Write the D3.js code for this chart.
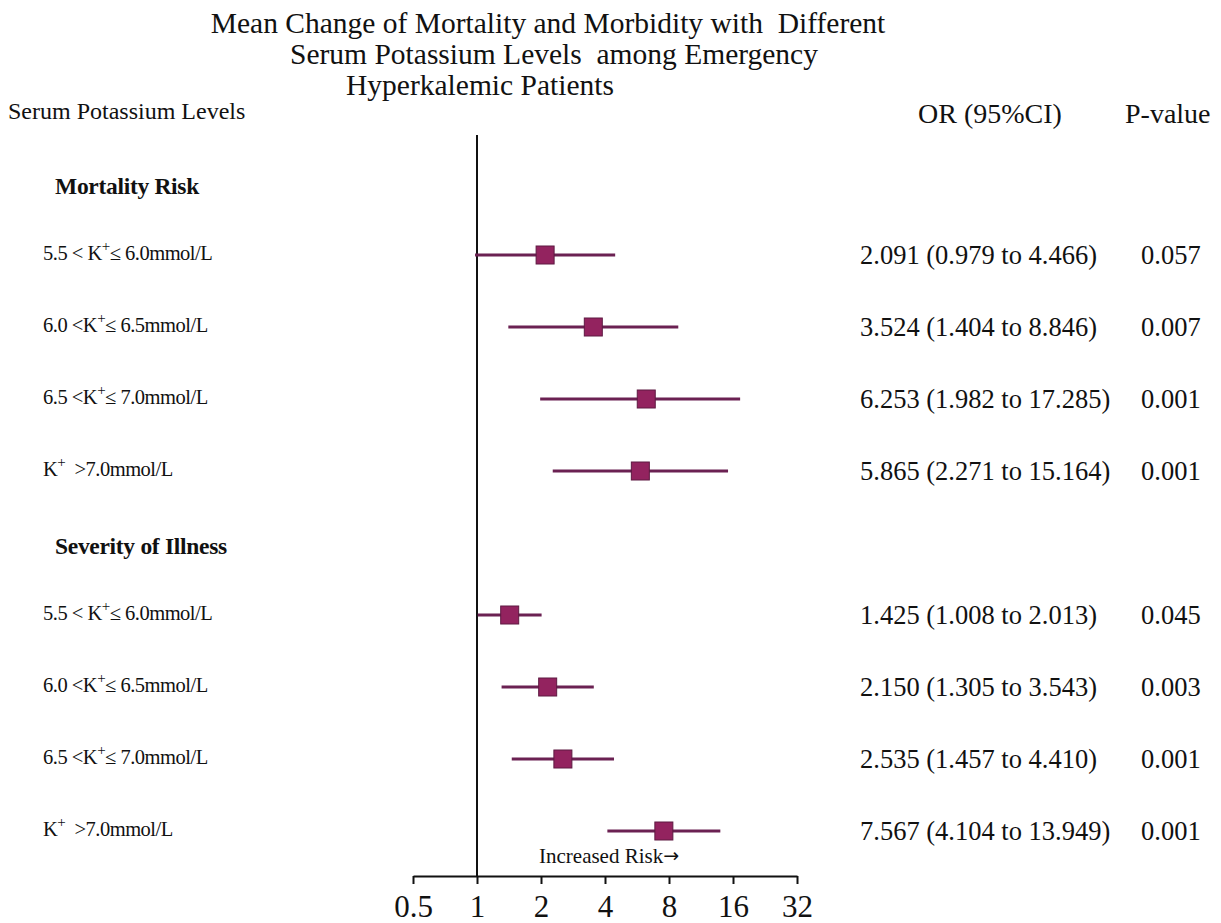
<!DOCTYPE html>
<html>
<head>
<meta charset="utf-8">
<script src="https://cdn.jsdelivr.net/npm/d3@7"></script>
<style>
  body { margin: 0; background: #fff; }
  text { font-family: "Liberation Serif", "Times New Roman", serif; fill: #111; }
</style>
</head>
<body>
<div id="vis"></div>
<script>
// data
var groups = ["Mortality Risk", "Severity of Illness"];
var labelPre  = ["5.5 < K", "6.0 <K", "6.5 <K", "K"];
var labelPost = ["\u2264 6.0mmol/L", "\u2264 6.5mmol/L", "\u2264 7.0mmol/L", "  >7.0mmol/L"];
var orMort = [2.091, 3.524, 6.253, 5.865];
var loMort = [0.979, 1.404, 1.982, 2.271];
var hiMort = [4.466, 8.846, 17.285, 15.164];
var pMort  = ["0.057", "0.007", "0.001", "0.001"];
var orSev  = [1.425, 2.150, 2.535, 7.567];
var loSev  = [1.008, 1.305, 1.457, 4.104];
var hiSev  = [2.013, 3.543, 4.410, 13.949];
var pSev   = ["0.045", "0.003", "0.001", "0.001"];
var ticks  = [0.5, 1, 2, 4, 8, 16, 32];
var titleLines = ["Mean Change of Mortality and Morbidity with  Different",
                  "Serum Potassium Levels  among Emergency",
                  "Hyperkalemic Patients"];

var W = 1221, H = 923;
var svg = d3.select("#vis").append("svg")
  .attr("width", W).attr("height", H);

var x = d3.scaleLog().base(2).domain([0.5, 32]).range([413, 797]);
var axisY = 876;

// build rows: header, 4 rows, header, 4 rows
var rows = [];
var sets = [[orMort, loMort, hiMort, pMort], [orSev, loSev, hiSev, pSev]];
groups.forEach(function(g, gi){
  rows.push({type: "head", text: g});
  for (var i = 0; i < 4; i++) {
    rows.push({type: "row", pre: labelPre[i], post: labelPost[i],
      or: sets[gi][0][i], lo: sets[gi][1][i], hi: sets[gi][2][i], p: sets[gi][3][i]});
  }
});
var y = d3.scalePoint().domain(d3.range(rows.length)).range([183, 831]);

// title
svg.append("g").selectAll("text")
  .data(titleLines).enter().append("text")
  .attr("x", function(d, i){ return [548, 554, 480][i]; })
  .attr("y", function(d, i){ return 33 + i*31; })
  .attr("text-anchor", "middle")
  .style("font-size", "29.5px")
  .style("white-space", "pre")
  .text(function(d){ return d; });

svg.append("text").attr("x", 8).attr("y", 119)
  .style("font-size", "24px").text("Serum Potassium Levels");
svg.append("text").attr("x", 918).attr("y", 123)
  .style("font-size", "28px").text("OR (95%CI)");
svg.append("text").attr("x", 1125).attr("y", 123)
  .style("font-size", "28px").text("P-value");

// reference line at OR = 1
svg.append("line")
  .attr("x1", x(1)).attr("x2", x(1))
  .attr("y1", 135).attr("y2", axisY)
  .attr("stroke", "#111").attr("stroke-width", 2);

// axis
var axis = d3.axisBottom(x).tickValues(ticks).tickSize(8).tickSizeOuter(0)
  .tickFormat(function(d){ return d; });
var ag = svg.append("g").attr("transform", "translate(0," + axisY + ")").call(axis);
ag.select(".domain").attr("stroke", "#111").attr("stroke-width", 2);
ag.selectAll(".tick line").attr("stroke", "#111").attr("stroke-width", 2);
ag.selectAll(".tick text")
  .attr("y", 41).attr("dy", 0)
  .style("font-family", "'Liberation Serif', serif")
  .style("font-size", "31px").attr("fill", "#111");

var inc = svg.append("text").attr("x", 539).attr("y", 863)
  .style("font-size", "21px");
inc.append("tspan").text("Increased Risk");
inc.append("tspan").style("font-family", "'DejaVu Sans', sans-serif")
  .style("font-size", "19px").attr("dy", -1).text("\u2192");

// group headers
svg.selectAll(".head").data(rows.filter(function(r){ return r.type == "head"; }))
  .enter().append("text").attr("class", "head")
  .attr("x", 55)
  .attr("y", function(d){ return y(rows.indexOf(d)) + 11; })
  .style("font-size", "23.5px").style("font-weight", "bold")
  .style("letter-spacing", "-0.3px")
  .text(function(d){ return d.text; });

var rowData = rows.map(function(r, i){ r.i = i; return r; })
  .filter(function(r){ return r.type == "row"; });

// row labels with superscript +
var lab = svg.selectAll(".lab").data(rowData).enter().append("text")
  .attr("class", "lab")
  .attr("x", 43)
  .attr("y", function(d){ return y(d.i) + 5; })
  .style("font-size", "20.5px")
  .style("letter-spacing", "-0.5px")
  .style("white-space", "pre");
lab.append("tspan").text(function(d){ return d.pre; });
lab.append("tspan").attr("dy", -9).style("font-size", "15px").text("+");
lab.append("tspan").attr("dy", 9).text(function(d){ return d.post; });

// CI lines
svg.selectAll(".ci").data(rowData).enter().append("line")
  .attr("class", "ci")
  .attr("x1", function(d){ return x(d.lo); })
  .attr("x2", function(d){ return x(d.hi); })
  .attr("y1", function(d){ return y(d.i); })
  .attr("y2", function(d){ return y(d.i); })
  .attr("stroke", "#6b2152").attr("stroke-width", 3);

// squares
var sz = 18;
svg.selectAll(".pt").data(rowData).enter().append("rect")
  .attr("class", "pt")
  .attr("x", function(d){ return x(d.or) - sz/2; })
  .attr("y", function(d){ return y(d.i) - sz/2; })
  .attr("width", sz).attr("height", sz)
  .attr("fill", "#93235f").attr("stroke", "#5e1a42").attr("stroke-width", 1);

// OR text and p-values
svg.selectAll(".ort").data(rowData).enter().append("text")
  .attr("class", "ort")
  .attr("x", 860)
  .attr("y", function(d){ return y(d.i) + 9; })
  .style("font-size", "26.5px")
  .text(function(d){
    return d3.format(".3f")(d.or) + " (" + d3.format(".3f")(d.lo) + " to " + d3.format(".3f")(d.hi) + ")";
  });
svg.selectAll(".pv").data(rowData).enter().append("text")
  .attr("class", "pv")
  .attr("x", 1141)
  .attr("y", function(d){ return y(d.i) + 9; })
  .style("font-size", "26.5px")
  .text(function(d){ return d.p; });
</script>
</body>
</html>
